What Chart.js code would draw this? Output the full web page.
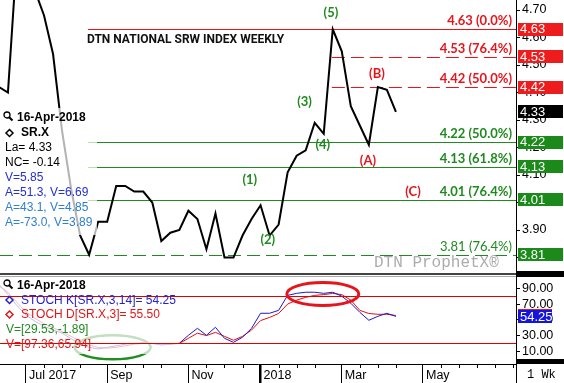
<!DOCTYPE html>
<html><head><meta charset="utf-8">
<script src="https://cdn.jsdelivr.net/npm/chart.js@4.4.0/dist/chart.umd.min.js"></script>
<style>
html,body{margin:0;padding:0;background:#fff;overflow:hidden}
#wrap{position:relative;width:564px;height:383px;background:#fff}
#c1{position:absolute;left:0;top:0}
#c2{position:absolute;left:0;top:278px}
</style></head><body>
<div id="wrap">
<canvas id="c1" width="564" height="278"></canvas>
<canvas id="c2" width="564" height="105"></canvas>
</div>
<script>
// ---------- DATA ----------
const weekDates = ['2017-06-12','2017-06-19','2017-06-26','2017-07-03','2017-07-10','2017-07-17','2017-07-24','2017-07-31',
 '2017-08-07','2017-08-14','2017-08-21','2017-08-28','2017-09-04','2017-09-11','2017-09-18','2017-09-25',
 '2017-10-02','2017-10-09','2017-10-16','2017-10-23','2017-10-30','2017-11-06','2017-11-13','2017-11-20','2017-11-27',
 '2017-12-04','2017-12-11','2017-12-18','2017-12-25','2018-01-01','2018-01-08','2018-01-15','2018-01-22','2018-01-29',
 '2018-02-05','2018-02-12','2018-02-19','2018-02-26','2018-03-05','2018-03-12','2018-03-19','2018-03-26',
 '2018-04-02','2018-04-09','2018-04-16'];
const priceValues = [4.42,4.40,4.90,4.98,4.77,4.68,4.54,4.26,4.05,3.88,
 3.81,3.93,3.93,4.06,4.06,4.04,4.04,4.00,3.86,3.89,
 3.90,3.97,3.94,3.83,3.96,3.80,3.80,3.88,3.94,3.99,
 3.88,3.92,4.11,4.17,4.19,4.29,4.25,4.63,4.55,4.35,
 4.28,4.21,4.42,4.41,4.33];
const stochK = [95,82,68,56,48,42,37,33,26,19,15,13,15,17,19,20,21,20,18,19,
 20.2,30.3,39.2,30.3,40.5,26.5,21.4,27.8,39.2,58.3,58.3,62,81,83.6,85,85,83.6,85,80,71,59.5,49.4,54.4,58.3,54.25];
const stochD = [93,85,72,60,52,45,40,35,29,23,18,15,14,15,17,19,20,20,19,19,
 20,26.5,33,30,34,29,24,29,37,49,53,58,70,75,78.5,81,82,83.5,82,75,62,58,57,57,55.5];
const priceTicks = [3.8,3.9,4.0,4.1,4.2,4.3,4.4,4.5,4.6,4.7];
const stochTicks = [10,30,50,70,90];
const monthTickDates = ['2017-07-03','2017-09-04','2017-11-06','2018-01-01','2018-03-05','2018-05-07'];
const monthTickLabels = ['Jul 2017','Sep','Nov','2018','Mar','May'];
const fibLevels = [4.63,4.53,4.42,4.22,4.13,4.01,3.81];
const fibLabels = ['4.63 (0.0%)','4.53 (76.4%)','4.42 (50.0%)','4.22 (50.0%)','4.13 (61.8%)','4.01 (76.4%)','3.81 (76.4%)'];
const waveLabels = ['(1)','(2)','(3)','(4)','(5)','(A)','(B)','(C)'];
const stochLevels = [80,20];
const priceLegend = ['La= 4.33','NC= -0.14','V=5.85','A=51.3, V=6.69','A=43.1, V=4.85','A=-73.0, V=3.89'];
const stochLegend = ['STOCH K[SR.X,3,14]= 54.25','STOCH D[SR.X,3]= 55.50','V=[29.53,-1.89]','V=[97.36,65.94]'];

// ---------- helpers ----------
const REF = Date.parse('2017-07-03T00:00:00Z');
const wk = d => (Date.parse(d + 'T00:00:00Z') - REF) / (7 * 864e5);
const X_MIN = -2.88, X_MAX = 54.31;
Chart.defaults.font.family = "'Liberation Sans', Arial, sans-serif";

// annotation anchors (data coords) and styles
const fibFrom = [6.87, 33.9, 33.9, 6.87, 6.87, 6.87, -3];
const fibColor = ['#e8141b','#e8141b','#e8141b','#1f8a1f','#1f8a1f','#1f8a1f','#1f8a1f'];
const fibDashed = [false,true,true,false,false,false,true];
const waveAt = [[24.8,4.082],[26.8,3.864],[30.87,4.367],[32.9,4.21],[33.8,4.689],[37.9,4.152],[38.9,4.467],[42.9,4.038]];
const waveColor = ['#1f8a1f','#1f8a1f','#1f8a1f','#1f8a1f','#1f8a1f','#e8141b','#e8141b','#e8141b'];
const priceLegendColor = ['#000','#000','#2430d0','#2430d0','#2f80d0','#2f80d0'];
const stochLegendColor = ['#2323c8','#e01818','#1f8a1f','#e01818'];
const RED = '#ee1c1c', GREEN = '#1b8a1b';

function txt(ctx, s, x, y, font, color, align) {
  ctx.font = font; ctx.fillStyle = color; ctx.textAlign = align || 'left'; ctx.textBaseline = 'middle';
  ctx.fillText(s, x, y);
}
function magnifier(ctx, x, y) {
  ctx.save(); ctx.strokeStyle = '#000'; ctx.lineWidth = 1.3;
  ctx.beginPath(); ctx.arc(x, y, 3, 0, Math.PI * 2); ctx.stroke();
  ctx.lineWidth = 2; ctx.beginPath(); ctx.moveTo(x + 2.2, y + 2.2); ctx.lineTo(x + 5.5, y + 5.5); ctx.stroke();
  ctx.restore();
}
function diamond(ctx, x, y, c) {
  ctx.save(); ctx.strokeStyle = c; ctx.lineWidth = 1.5;
  ctx.beginPath(); ctx.moveTo(x, y - 3.5); ctx.lineTo(x + 3.5, y); ctx.lineTo(x, y + 3.5); ctx.lineTo(x - 3.5, y); ctx.closePath(); ctx.stroke();
  ctx.restore();
}
function valueBox(ctx, scale, v, fill, label, w) {
  const py = scale.getPixelForValue(v);
  ctx.fillStyle = fill;
  ctx.fillRect(518, Math.round(py - 6.5), w, 13);
  txt(ctx, label, 520, py + 0.5, '13px "Liberation Sans", Arial', '#fff');
}

// ---------- price chart ----------
const pricePlugin = {
  id: 'pricePlugin',
  beforeDatasetsDraw(chart) {
    const {ctx, chartArea: a, scales: {x, y}} = chart;
    ctx.save();
    fibLevels.forEach((lv, i) => {
      const py = Math.round(y.getPixelForValue(lv)) + 0.5;
      const x0 = Math.max(a.left, x.getPixelForValue(fibFrom[i]));
      ctx.strokeStyle = fibColor[i]; ctx.lineWidth = 1.2;
      ctx.setLineDash(fibDashed[i] ? [13, 6] : []);
      ctx.beginPath(); ctx.moveTo(x0, py); ctx.lineTo(a.right, py); ctx.stroke();
    });
    ctx.restore();
  },
  afterDatasetsDraw(chart) {
    const {ctx, chartArea: a, scales: {x, y}} = chart;
    ctx.save();
    // semi-transparent legend box
    ctx.fillStyle = 'rgba(255,255,255,0.7)';
    ctx.fillRect(0, 108, 97, 127);
    magnifier(ctx, 7, 115);
    txt(ctx, '16-Apr-2018', 17, 117.5, 'bold 12px "Liberation Sans"', '#000');
    diamond(ctx, 9.5, 133, '#000');
    txt(ctx, 'SR.X', 21, 133, 'bold 12px "Liberation Sans"', '#000');
    priceLegend.forEach((s, i) => txt(ctx, s, 5, 147.5 + i * 15, '12px "Liberation Sans"', priceLegendColor[i]));
    // title
    txt(ctx, 'DTN NATIONAL SRW INDEX WEEKLY', 87, 39.5, 'bold 12px Roboto', '#111');
    // fib labels
    fibLevels.forEach((lv, i) => {
      const py = y.getPixelForValue(lv);
      txt(ctx, fibLabels[i], a.right - 4, py - 8, (i === 6 ? '' : 'bold ') + '13px Lato', fibColor[i], 'right');
    });
    // wave labels
    waveLabels.forEach((s, i) => {
      txt(ctx, s, x.getPixelForValue(waveAt[i][0]), y.getPixelForValue(waveAt[i][1]), 'bold 13px Lato', waveColor[i], 'center');
    });
    // watermark
    txt(ctx, 'DTN ProphetX\u00AE', 374, 263, '16px "Liberation Mono"', '#acacac');
    ctx.restore();
  },
  afterDraw(chart) {
    const {ctx, scales: {y}} = chart;
    ctx.save();
    const boxes = [[4.63, RED], [4.53, RED], [4.42, RED], [priceValues[priceValues.length - 1], '#000'],
      [4.22, GREEN], [4.13, GREEN], [4.01, GREEN], [3.81, GREEN]];
    boxes.forEach(b => valueBox(ctx, y, b[0], b[1], b[0].toFixed(2), 45));
    // panel separator
    ctx.fillStyle = '#444'; ctx.fillRect(0, 273, 516, 2);
    ctx.fillStyle = '#aaa'; ctx.fillRect(0, 276, 516, 1);
    ctx.fillStyle = '#000'; ctx.fillRect(516, 271, 48, 6);
    ctx.restore();
  }
};

new Chart(document.getElementById('c1'), {
  type: 'line',
  data: {
    datasets: [{
      data: weekDates.map((d, i) => ({x: wk(d), y: priceValues[i]})),
      borderColor: '#000', borderWidth: 2, pointRadius: 0, tension: 0, fill: false
    }]
  },
  options: {
    responsive: false, animation: false, events: [],
    layout: {padding: 0},
    plugins: {legend: {display: false}, tooltip: {enabled: false}},
    scales: {
      x: {type: 'linear', display: false, min: X_MIN, max: X_MAX},
      y: {
        position: 'right', min: 3.7255, max: 4.7364,
        afterBuildTicks: s => { s.ticks = priceTicks.map(v => ({value: v})); },
        afterFit: s => { s.width = 48; s.paddingTop = 0; s.paddingBottom = 0; },
        ticks: {color: '#000', font: {size: 12.5}, padding: 2, callback: v => Number(v).toFixed(2)},
        grid: {drawOnChartArea: false, tickLength: 4, color: '#000'},
        border: {display: true, color: '#000'}
      }
    }
  },
  plugins: [pricePlugin]
});

// ---------- stochastic chart ----------
const stochPlugin = {
  id: 'stochPlugin',
  afterDatasetsDraw(chart) {
    const {ctx, chartArea: a, scales: {x, y}} = chart;
    ctx.save();
    // green ellipse (under legend box)
    ctx.strokeStyle = '#1f8f1f'; ctx.lineWidth = 2.5;
    ctx.beginPath(); ctx.ellipse(x.getPixelForValue(9.6), y.getPixelForValue(15), 38, 12, 0, 0, Math.PI * 2); ctx.stroke();
    // legend box
    ctx.fillStyle = 'rgba(255,255,255,0.72)';
    ctx.fillRect(0, 0, 178, 76);
    // reference lines
    ctx.strokeStyle = '#e00000'; ctx.lineWidth = 1;
    stochLevels.forEach(v => {
      const py = Math.round(y.getPixelForValue(v)) + 0.5;
      ctx.beginPath(); ctx.moveTo(a.left, py); ctx.lineTo(a.right, py); ctx.stroke();
    });
    // red ellipse
    ctx.strokeStyle = '#e8141b'; ctx.lineWidth = 3;
    ctx.beginPath(); ctx.ellipse(x.getPixelForValue(32.9), y.getPixelForValue(82.8), 36, 11.5, 0, 0, Math.PI * 2); ctx.stroke();
    // legend text
    magnifier(ctx, 7, 5);
    txt(ctx, '16-Apr-2018', 17, 7.5, 'bold 12px "Liberation Sans"', '#000');
    diamond(ctx, 9.5, 22, stochLegendColor[0]);
    diamond(ctx, 9.5, 36.5, stochLegendColor[1]);
    const lx = [21, 21, 6, 6], ly = [22.5, 37, 51.5, 66.5];
    stochLegend.forEach((s, i) => txt(ctx, s, lx[i], ly[i], '12px "Liberation Sans"', stochLegendColor[i]));
    ctx.restore();
  },
  afterDraw(chart) {
    const {ctx, chartArea: a, scales: {x, y}} = chart;
    ctx.save();
    valueBox(ctx, y, stochD[stochD.length - 1], '#e01818', '', 34);
    valueBox(ctx, y, stochK[stochK.length - 1], '#1414dc', stochK[stochK.length - 1].toFixed(2), 34);
    // minor ticks on x axis (every 2 weeks from each month mark)
    const majors = monthTickDates.map(wk);
    const marks = [];
    const all = [majors[0] - 9].concat(majors, [X_MAX + 2]);
    for (let i = 0; i < all.length - 1; i++) {
      for (let k = 2; all[i] + k < all[i + 1] - 1.1; k += 2) marks.push(all[i] + k);
    }
    ctx.strokeStyle = '#000'; ctx.lineWidth = 1;
    marks.forEach(m => {
      const px = Math.round(x.getPixelForValue(m)) + 0.5;
      if (px < a.left || px > a.right) return;
      ctx.beginPath(); ctx.moveTo(px, a.bottom); ctx.lineTo(px, a.bottom + 4); ctx.stroke();
    });
    // axis column details
    ctx.fillStyle = '#000'; ctx.fillRect(516, a.bottom - 5, 48, 5);
    ctx.fillRect(516, a.bottom, 1, 19);
    txt(ctx, '1 Wk', 527, 97, '12px "Liberation Mono"', '#000');
    ctx.restore();
  }
};

new Chart(document.getElementById('c2'), {
  type: 'line',
  data: {
    datasets: [
      {data: weekDates.map((d, i) => ({x: wk(d), y: stochK[i]})), borderColor: '#1a1ac8', borderWidth: 1, pointRadius: 0, tension: 0, fill: false},
      {data: weekDates.map((d, i) => ({x: wk(d), y: stochD[i]})), borderColor: '#e01010', borderWidth: 1, pointRadius: 0, tension: 0, fill: false}
    ]
  },
  options: {
    responsive: false, animation: false, events: [],
    layout: {padding: 0},
    plugins: {legend: {display: false}, tooltip: {enabled: false}},
    scales: {
      x: {
        type: 'linear', position: 'bottom', min: X_MIN, max: X_MAX,
        afterBuildTicks: s => { s.ticks = monthTickDates.map(d => ({value: wk(d)})); },
        afterFit: s => { s.height = 19; s.paddingLeft = 0; s.paddingRight = 0; },
        ticks: {autoSkip: false, maxRotation: 0, minRotation: 0, align: 'start', labelOffset: 3, padding: -15,
          color: '#000', font: {size: 12.5}, callback: (v, i) => monthTickLabels[i]},
        grid: {drawOnChartArea: false, drawTicks: true, tickLength: 19, color: '#000',
          lineWidth: c => (monthTickLabels[c.index] === '2018' ? 2.5 : 1)},
        border: {display: true, color: '#000'}
      },
      y: {
        position: 'right', min: -6.13, max: 103.08,
        afterBuildTicks: s => { s.ticks = stochTicks.map(v => ({value: v})); },
        afterFit: s => { s.width = 48; s.paddingTop = 0; s.paddingBottom = 0; },
        ticks: {color: '#000', font: {size: 12.5}, padding: 2, callback: v => Number(v).toFixed(2)},
        grid: {drawOnChartArea: false, tickLength: 4, color: '#000'},
        border: {display: true, color: '#000'}
      }
    }
  },
  plugins: [stochPlugin]
});
</script>
</body></html>
